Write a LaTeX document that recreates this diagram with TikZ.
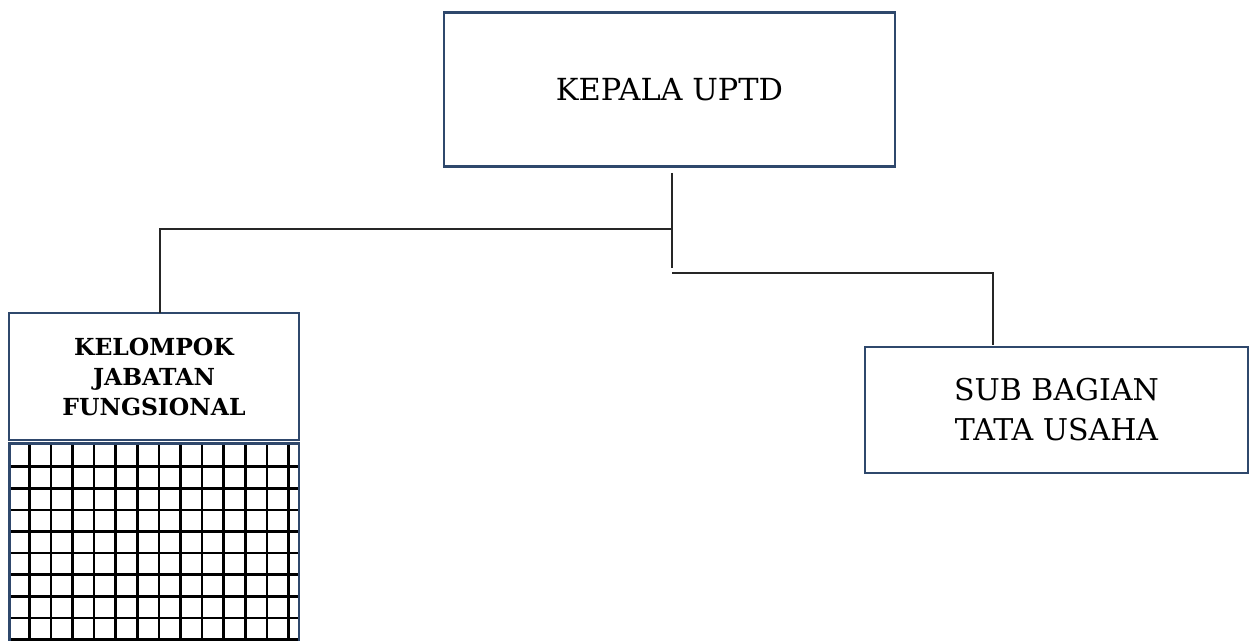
\documentclass[tikz,border=0pt]{standalone}
\usepackage{fontspec}
\setmainfont{DejaVu Serif}
\usetikzlibrary{calc}
\definecolor{boxc}{RGB}{47,72,108}
\tikzset{
  orgbox/.style={draw=boxc, line width=1.9pt, fill=white, inner sep=0pt, align=center},
  conn/.style={draw=black!85, line width=1.4pt},
  gridline/.style={draw=black, line width=1.9pt}
}
\begin{document}
\begin{tikzpicture}[x=0.75pt,y=-0.75pt]
\useasboundingbox (0,0) rectangle (1250,641);
% boxes
\node[orgbox, minimum width=451*0.75pt, minimum height=154*0.75pt,
      font=\fontsize{22.8}{30}\selectfont] (kepala) at (669.5,89.5) {KEPALA UPTD};
\node[orgbox, minimum width=290*0.75pt, minimum height=127*0.75pt,
      font=\fontsize{17.6}{22.5}\selectfont\bfseries] (kel) at (154,376.5) {KELOMPOK\\JABATAN\\FUNGSIONAL};
\node[orgbox, minimum width=383*0.75pt, minimum height=126*0.75pt,
      font=\fontsize{22.5}{30}\selectfont] (sub) at (1056.5,410) {SUB BAGIAN\\TATA USAHA};
% grid box
\coordinate (gtl) at (9.5,443.5);
\coordinate (gbr) at (299,680);
\begin{scope}
  \clip (gtl) rectangle (gbr);
  \foreach \k in {0,...,12} {
    \draw[gridline] (29.3+21.6*\k,443) -- (29.3+21.6*\k,690);
  }
  \foreach \k in {0,...,9} {
    \draw[gridline] (9,466.7+21.6*\k) -- (300,466.7+21.6*\k);
  }
\end{scope}
\draw[draw=boxc, line width=1.9pt] (gtl) rectangle (gbr);
% connectors
\coordinate (t1) at (672,173);
\coordinate (t2) at (672,268);
\coordinate (jl) at (672,229.3);
\coordinate (kt) at (160,313);
\coordinate (jr) at (672,272.7);
\coordinate (st) at (993,345);
\draw[conn] (t1) -- (t2);
\draw[conn] (jl) -| (kt);
\draw[conn] (jr) -| (st);
\end{tikzpicture}
\end{document}
